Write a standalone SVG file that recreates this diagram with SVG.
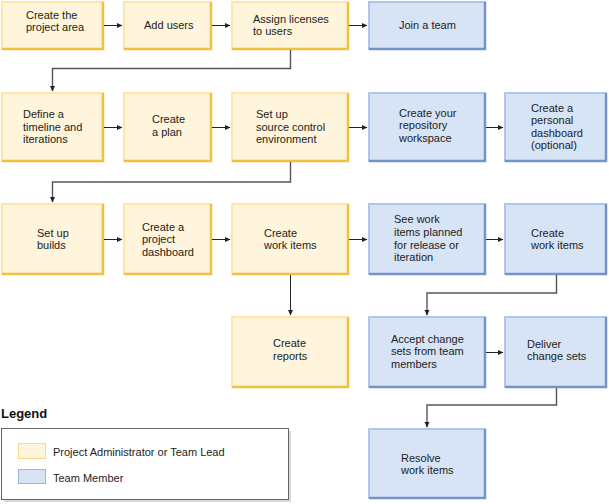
<svg xmlns="http://www.w3.org/2000/svg" width="609" height="504" viewBox="0 0 609 504">
  <defs>
    <marker id="arrow" markerWidth="6" markerHeight="6" refX="5" refY="3" orient="auto" markerUnits="userSpaceOnUse">
      <path d="M0,0.5 L5.5,3 L0,5.5 Z" fill="#222"/>
    </marker>
  </defs>
  <style>
    .admin .body { fill: #fef5dc; stroke: #fde6a6; stroke-width: 2; }
    .admin .edge { stroke: #f2bf40; stroke-width: 2.5; fill: none; }
    .member .body { fill: #d7e4f5; stroke: #aec7e9; stroke-width: 2; }
    .member .edge { stroke: #7393c9; stroke-width: 2.5; fill: none; }
    text { font-family: "Liberation Sans", Arial, Helvetica, sans-serif; font-size: 11px; fill: #222; }
    .link { stroke: #222; stroke-width: 1; fill: none; }
    .elbow { stroke: #555; stroke-width: 1.4; fill: none; }
    .legend-title { font-weight: bold; font-size: 13px; fill: #111; }
  </style>

  <!-- Row 1 -->
  <g id="create-project-area" class="admin">
    <rect class="body" x="2" y="2" width="101" height="47"/>
    <path class="edge" d="M2,49 H103 V2"/>
    <text x="26" y="19">Create the</text>
    <text x="26" y="31">project area</text>
  </g>
  <g id="add-users" class="admin">
    <rect class="body" x="124" y="2" width="87" height="47"/>
    <path class="edge" d="M124,49 H211 V2"/>
    <text x="144" y="29">Add users</text>
  </g>
  <g id="assign-licenses" class="admin">
    <rect class="body" x="232" y="2" width="116" height="47"/>
    <path class="edge" d="M232,49 H348 V2"/>
    <text x="253" y="23">Assign licenses</text>
    <text x="253" y="35">to users</text>
  </g>
  <g id="join-team" class="member">
    <rect class="body" x="369" y="2" width="116" height="47"/>
    <path class="edge" d="M369,49 H485 V2"/>
    <text x="399" y="29">Join a team</text>
  </g>

  <!-- Row 2 -->
  <g id="define-timeline" class="admin">
    <rect class="body" x="2" y="93" width="101" height="68"/>
    <path class="edge" d="M2,161 H103 V93"/>
    <text x="23" y="118">Define a</text>
    <text x="23" y="131">timeline and</text>
    <text x="23" y="143">iterations</text>
  </g>
  <g id="create-plan" class="admin">
    <rect class="body" x="124" y="93" width="87" height="68"/>
    <path class="edge" d="M124,161 H211 V93"/>
    <text x="152" y="123">Create</text>
    <text x="152" y="136">a plan</text>
  </g>
  <g id="source-control" class="admin">
    <rect class="body" x="232" y="93" width="116" height="68"/>
    <path class="edge" d="M232,161 H348 V93"/>
    <text x="256" y="118">Set up</text>
    <text x="256" y="131">source control</text>
    <text x="256" y="143">environment</text>
  </g>
  <g id="repository-workspace" class="member">
    <rect class="body" x="369" y="93" width="116" height="68"/>
    <path class="edge" d="M369,161 H485 V93"/>
    <text x="399" y="117">Create your</text>
    <text x="399" y="129">repository</text>
    <text x="399" y="142">workspace</text>
  </g>
  <g id="personal-dashboard" class="member">
    <rect class="body" x="505" y="93" width="101" height="68"/>
    <path class="edge" d="M505,161 H606 V93"/>
    <text x="531" y="112">Create a</text>
    <text x="531" y="124">personal</text>
    <text x="531" y="137">dashboard</text>
    <text x="531" y="149">(optional)</text>
  </g>

  <!-- Row 3 -->
  <g id="setup-builds" class="admin">
    <rect class="body" x="2" y="204" width="101" height="70"/>
    <path class="edge" d="M2,274 H103 V204"/>
    <text x="37" y="237">Set up</text>
    <text x="37" y="249">builds</text>
  </g>
  <g id="project-dashboard" class="admin">
    <rect class="body" x="124" y="204" width="87" height="70"/>
    <path class="edge" d="M124,274 H211 V204"/>
    <text x="142" y="231">Create a</text>
    <text x="142" y="243">project</text>
    <text x="142" y="256">dashboard</text>
  </g>
  <g id="admin-work-items" class="admin">
    <rect class="body" x="232" y="204" width="116" height="70"/>
    <path class="edge" d="M232,274 H348 V204"/>
    <text x="264" y="237">Create</text>
    <text x="264" y="249">work items</text>
  </g>
  <g id="planned-work-items" class="member">
    <rect class="body" x="369" y="204" width="116" height="70"/>
    <path class="edge" d="M369,274 H485 V204"/>
    <text x="394" y="223">See work</text>
    <text x="394" y="236">items planned</text>
    <text x="394" y="249">for release or</text>
    <text x="394" y="261">iteration</text>
  </g>
  <g id="member-work-items" class="member">
    <rect class="body" x="505" y="204" width="101" height="70"/>
    <path class="edge" d="M505,274 H606 V204"/>
    <text x="531" y="237">Create</text>
    <text x="531" y="249">work items</text>
  </g>

  <!-- Row 4 -->
  <g id="create-reports" class="admin">
    <rect class="body" x="232" y="317" width="116" height="70"/>
    <path class="edge" d="M232,387 H348 V317"/>
    <text x="273" y="347">Create</text>
    <text x="273" y="360">reports</text>
  </g>
  <g id="accept-change-sets" class="member">
    <rect class="body" x="369" y="317" width="116" height="70"/>
    <path class="edge" d="M369,387 H485 V317"/>
    <text x="391" y="343">Accept change</text>
    <text x="391" y="355">sets from team</text>
    <text x="391" y="368">members</text>
  </g>
  <g id="deliver-change-sets" class="member">
    <rect class="body" x="505" y="317" width="101" height="70"/>
    <path class="edge" d="M505,387 H606 V317"/>
    <text x="527" y="348">Deliver</text>
    <text x="527" y="360">change sets</text>
  </g>

  <!-- Row 5 -->
  <g id="resolve-work-items" class="member">
    <rect class="body" x="369" y="429" width="116" height="69"/>
    <path class="edge" d="M369,498 H485 V429"/>
    <text x="401" y="462">Resolve</text>
    <text x="401" y="474">work items</text>
  </g>

  <!-- Connectors -->
  <g id="connectors">
    <path class="link" d="M104,25.5 H122" marker-end="url(#arrow)"/>
    <path class="link" d="M212,25.5 H230" marker-end="url(#arrow)"/>
    <path class="link" d="M349,25.5 H367" marker-end="url(#arrow)"/>
    <path class="elbow" d="M290.5,50 V68.5 H52.5 V91" marker-end="url(#arrow)"/>

    <path class="link" d="M104,127.5 H122" marker-end="url(#arrow)"/>
    <path class="link" d="M212,127.5 H230" marker-end="url(#arrow)"/>
    <path class="link" d="M349,127.5 H367" marker-end="url(#arrow)"/>
    <path class="link" d="M486,127.5 H503" marker-end="url(#arrow)"/>
    <path class="elbow" d="M290.5,162 V182 H52.5 V202" marker-end="url(#arrow)"/>

    <path class="link" d="M104,239.5 H122" marker-end="url(#arrow)"/>
    <path class="link" d="M212,239.5 H230" marker-end="url(#arrow)"/>
    <path class="link" d="M349,239.5 H367" marker-end="url(#arrow)"/>
    <path class="link" d="M486,239.5 H503" marker-end="url(#arrow)"/>
    <path class="link" d="M290.5,275 V315" marker-end="url(#arrow)"/>
    <path class="elbow" d="M556.5,275 V293 H427 V315" marker-end="url(#arrow)"/>

    <path class="link" d="M486,352.5 H503" marker-end="url(#arrow)"/>
    <path class="elbow" d="M556.5,388 V405 H427 V427" marker-end="url(#arrow)"/>
  </g>

  <!-- Legend -->
  <g id="legend">
    <text class="legend-title" x="1" y="418">Legend</text>
    <rect x="4" y="431" width="287" height="71" fill="#d9d9d9"/>
    <rect x="1.5" y="428.5" width="287" height="71" fill="#fff" stroke="#666" stroke-width="1"/>
    <rect x="18.5" y="443.5" width="27" height="15" fill="#fef5dc" stroke="#fcd98a" stroke-width="1"/>
    <rect x="18.5" y="469.5" width="27" height="14" fill="#d7e4f5" stroke="#9fb5d6" stroke-width="1"/>
    <text x="53" y="456">Project Administrator or Team Lead</text>
    <text x="53" y="482">Team Member</text>
  </g>
</svg>
